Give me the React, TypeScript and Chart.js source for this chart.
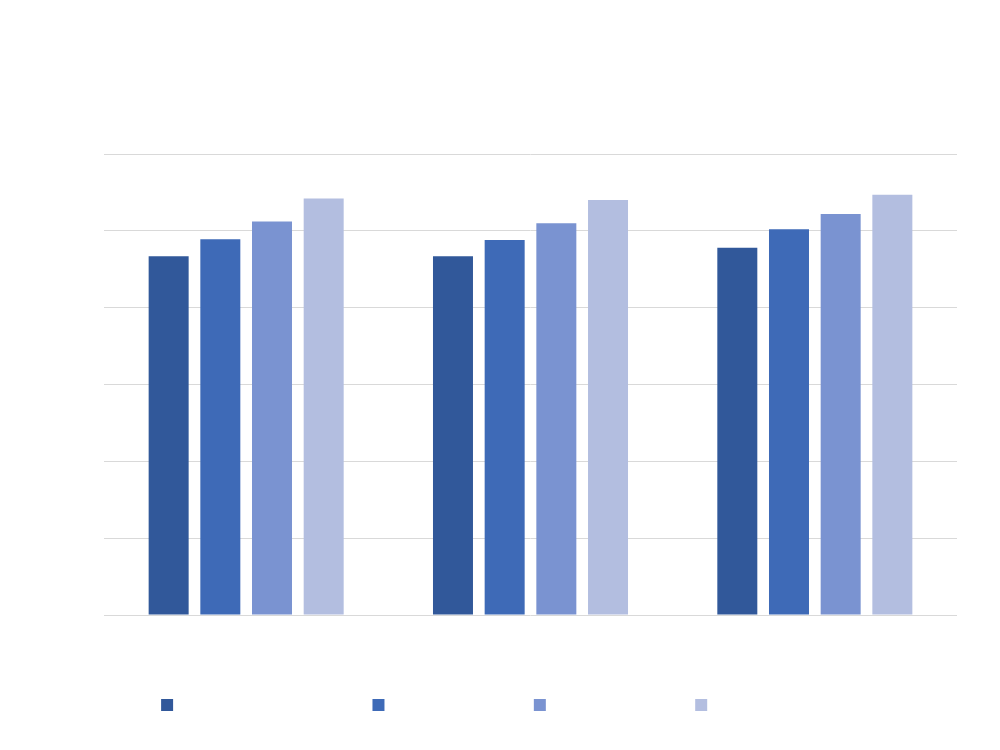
import React, { useEffect, useRef } from "react";
import { Chart, registerables } from "chart.js";

Chart.register(...registerables);

const categories = ["Group 1", "Group 2", "Group 3"];
const seriesNames = ["Series 1", "Series 2", "Series 3", "Series 4"];
const series1 = [4.67, 4.67, 4.78];
const series2 = [4.89, 4.88, 5.02];
const series3 = [5.12, 5.1, 5.22];
const series4 = [5.42, 5.4, 5.47];
const yTicks = [0, 1, 2, 3, 4, 5, 6];
const colors = ["#31589a", "#3e6ab7", "#7a93d1", "#b3bee0"];
const legendTextWidths = [184, 132, 132, 187];

export default function App() {
  const ref = useRef<HTMLCanvasElement | null>(null);
  useEffect(() => {
    if (!ref.current) return;
    const fontFamily = '"Liberation Sans", Arial, sans-serif';
    const mc = document.createElement("canvas").getContext("2d")!;
    mc.font = `12px ${fontFamily}`;
    const sw = mc.measureText("\u00a0").width || 3.33;
    const values = [series1, series2, series3, series4];
    const chart = new Chart(ref.current, {
      type: "bar",
      data: {
        labels: categories,
        datasets: values.map((v, i) => ({
          label: seriesNames[i],
          data: v,
          backgroundColor: colors[i],
          borderWidth: 0,
          barPercentage: 0.774,
          categoryPercentage: 0.727,
        })),
      },
      options: {
        animation: false,
        responsive: true,
        maintainAspectRatio: false,
        layout: { padding: { left: 104, right: 43, top: 154, bottom: 29 } },
        plugins: {
          tooltip: { enabled: false },
          legend: {
            position: "bottom",
            labels: {
              boxWidth: 12,
              boxHeight: 12,
              padding: 10,
              font: { size: 12, family: fontFamily },
              generateLabels: (c: any) =>
                c.data.datasets.map((d: any, i: number) => ({
                  text: "\u00a0".repeat(Math.max(1, Math.round(legendTextWidths[i] / sw))),
                  fillStyle: colors[i],
                  strokeStyle: colors[i],
                  lineWidth: 0,
                  hidden: false,
                  datasetIndex: i,
                })),
            },
          },
        },
        scales: {
          x: {
            grid: { display: false },
            border: { display: false },
            ticks: { display: false },
            afterFit: (axis: any) => {
              axis.height = 74;
            },
          },
          y: {
            min: yTicks[0],
            max: yTicks[yTicks.length - 1],
            afterBuildTicks: (axis: any) => {
              axis.ticks = yTicks.map((v) => ({ value: v }));
            },
            grid: { color: "#d9d9d9", lineWidth: 1, drawTicks: false },
            border: { display: false },
            ticks: { display: false },
            afterFit: (axis: any) => {
              axis.width = 0;
            },
          },
        },
      },
    });
    return () => chart.destroy();
  }, []);
  return (
    <div style={{ position: "absolute", left: 0, top: 0, width: 1000, height: 750, background: "#fff" }}>
      <canvas ref={ref} />
    </div>
  );
}
